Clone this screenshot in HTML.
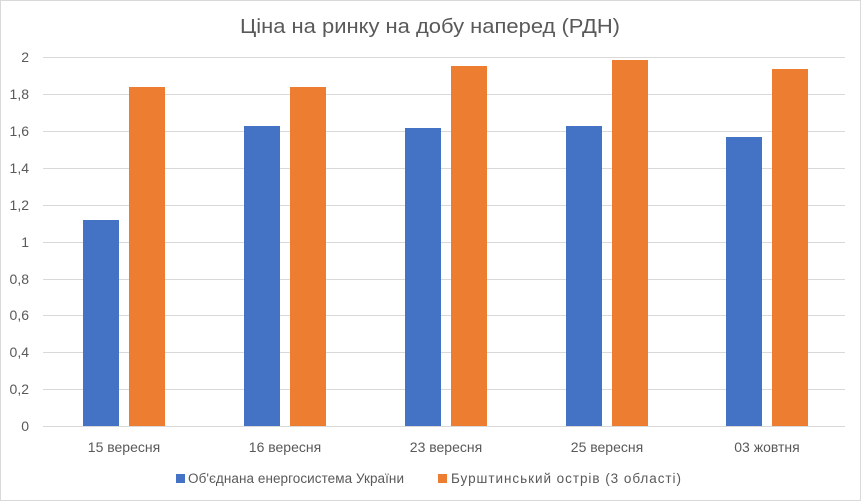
<!DOCTYPE html>
<html><head><meta charset="utf-8"><style>
html,body{margin:0;padding:0;background:#fff}
svg{display:block;font-family:"Liberation Sans","DejaVu Sans",sans-serif}
</style></head><body>
<svg width="861" height="501" viewBox="0 0 861 501" xmlns="http://www.w3.org/2000/svg">
<rect x="0.5" y="0.5" width="860" height="500" fill="#fff" stroke="#d9d9d9"/>
<text x="240" y="33" font-size="20" fill="#595959" textLength="380" lengthAdjust="spacingAndGlyphs">Ціна на ринку на добу наперед (РДН)</text>
<g stroke="#d9d9d9" stroke-width="1">
<line x1="43" x2="845" y1="57.5" y2="57.5"/>
<line x1="43" x2="845" y1="94.5" y2="94.5"/>
<line x1="43" x2="845" y1="131.5" y2="131.5"/>
<line x1="43" x2="845" y1="168.5" y2="168.5"/>
<line x1="43" x2="845" y1="205.5" y2="205.5"/>
<line x1="43" x2="845" y1="242.5" y2="242.5"/>
<line x1="43" x2="845" y1="279.5" y2="279.5"/>
<line x1="43" x2="845" y1="315.5" y2="315.5"/>
<line x1="43" x2="845" y1="352.5" y2="352.5"/>
<line x1="43" x2="845" y1="389.5" y2="389.5"/>
<line x1="43" x2="845" y1="426.5" y2="426.5"/>
</g>
<g font-size="14" fill="#595959" text-anchor="end">
<text x="29" y="62">2</text>
<text x="29" y="99">1,8</text>
<text x="29" y="136">1,6</text>
<text x="29" y="173">1,4</text>
<text x="29" y="210">1,2</text>
<text x="29" y="247">1</text>
<text x="29" y="284">0,8</text>
<text x="29" y="320">0,6</text>
<text x="29" y="357">0,4</text>
<text x="29" y="394">0,2</text>
<text x="29" y="431">0</text>
</g>
<g fill="#4472c4">
<rect x="83" y="220" width="36" height="206"/>
<rect x="244" y="126" width="36" height="300"/>
<rect x="405" y="128" width="36" height="298"/>
<rect x="566" y="126" width="36" height="300"/>
<rect x="726" y="137" width="36" height="289"/>
</g>
<g fill="#ed7d31">
<rect x="129" y="87" width="36" height="339"/>
<rect x="290" y="87" width="36" height="339"/>
<rect x="451" y="66" width="36" height="360"/>
<rect x="612" y="60" width="36" height="366"/>
<rect x="772" y="69" width="36" height="357"/>
</g>
<g font-size="14" fill="#595959" text-anchor="middle">
<text x="124" y="452">15 вересня</text>
<text x="285" y="452">16 вересня</text>
<text x="446" y="452">23 вересня</text>
<text x="607" y="452">25 вересня</text>
<text x="767" y="452">03 жовтня</text>
</g>
<rect x="176" y="474" width="9" height="9" fill="#4472c4"/>
<text x="188" y="483" font-size="13.5" fill="#595959" textLength="216">Об'єднана енергосистема України</text>
<rect x="438" y="474" width="9" height="9" fill="#ed7d31"/>
<text x="451" y="483" font-size="13.5" fill="#595959" textLength="230">Бурштинський острів (3 області)</text>
</svg>
</body></html>
